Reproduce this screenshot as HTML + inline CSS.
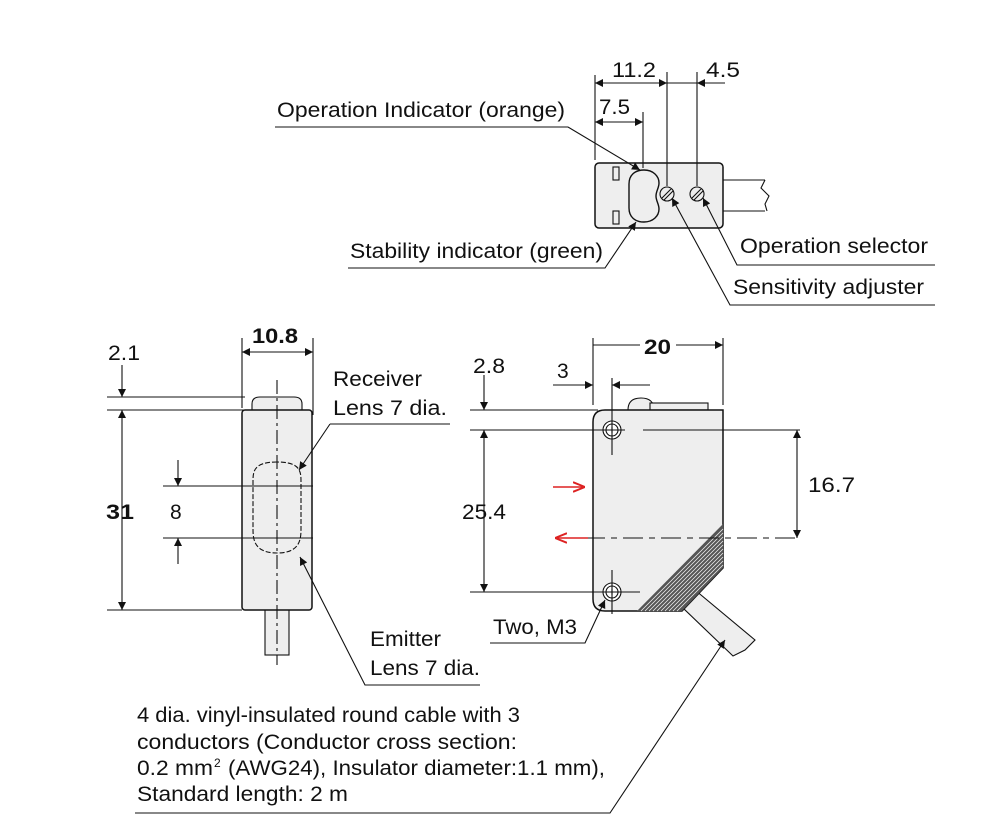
<!DOCTYPE html>
<html><head><meta charset="utf-8"><style>
html,body{margin:0;padding:0;background:#fff}
svg text{font-family:"Liberation Sans",sans-serif;font-size:21px;fill:#111}
</style></head><body>
<svg width="1000" height="830" viewBox="0 0 1000 830" xmlns="http://www.w3.org/2000/svg">
<defs>
<marker id="a" viewBox="0 0 10 10" refX="10" refY="5" markerWidth="12" markerHeight="8" markerUnits="userSpaceOnUse" orient="auto-start-reverse"><path d="M0,0L10,5L0,10z" fill="#111"/></marker>
<marker id="r" viewBox="0 0 10 10" refX="10" refY="5" markerWidth="12" markerHeight="12" markerUnits="userSpaceOnUse" orient="auto"><path d="M0,1L10,5L0,9" fill="none" stroke="#d22" stroke-width="1.6"/></marker>
</defs>
<g stroke="#111" stroke-width="1.1" fill="none">
<!-- TOP VIEW -->
<path d="M723,180H765M723,211H765" />
<path d="M765,180l-4,8 8,8-4,8 2,7" />
<rect x="595" y="163" width="128" height="65" rx="4" fill="#eee" stroke-width="1.5"/>
<rect x="613" y="167" width="6" height="13"/>
<rect x="613" y="211" width="6" height="13"/>
<path d="M644,170c-9,0-15,5-15,14v24c0,9 6,14 15,14c9,0 15-6 15-13c0-5-3-8-3-13c0-5 3-8 3-13c0-7-6-13-15-13z" stroke-width="1.4"/>
<circle cx="667" cy="194" r="7"/><path d="M662,198l9-9M664,200l9-9"/>
<circle cx="697" cy="194" r="7"/><path d="M692,198l9-9M694,200l9-9"/>
<path d="M595,160V75M667,186V72M697,186V72M643,168V112"/>
<path d="M595,83H667" marker-start="url(#a)" marker-end="url(#a)"/>
<path d="M725,83H697" marker-end="url(#a)"/>
<path d="M697,83H667"/>
<path d="M595,122H643" marker-start="url(#a)" marker-end="url(#a)"/>
<path d="M275,127H568L640,170" marker-end="url(#a)"/>
<path d="M348,268H605L636,222" marker-end="url(#a)"/>
<path d="M935,265H737L703,198" marker-end="url(#a)"/>
<path d="M935,305H730L672,198" marker-end="url(#a)"/>
<!-- SIDE VIEW -->
<rect x="265" y="605" width="24" height="50" fill="#eee"/>
<path d="M252,410V404q0-7 8-7H294q8,0 8,7V410z" fill="#eee"/>
<rect x="242" y="410" width="70" height="200" rx="3" fill="#eee" stroke-width="1.5"/>
<path d="M277,462c-24,0-24,10-24,20v46c0,10 0,25 24,25c24,0 24-15 24-25v-46c0-10 0-20-24-20z" stroke-dasharray="5,2"/>
<path d="M277,380V665" stroke-dasharray="14,4,3,4"/>
<path d="M163,486H313M163,538H313M107,397H245M107,410H245M107,610H242"/>
<path d="M242,408V338M313,415V338"/>
<path d="M242,352H313" marker-start="url(#a)" marker-end="url(#a)"/>
<path d="M122,410V610" marker-start="url(#a)" marker-end="url(#a)"/>
<path d="M122,365V397" marker-end="url(#a)"/>
<path d="M178,460V486" marker-end="url(#a)"/>
<path d="M178,564V538" marker-end="url(#a)"/>
<path d="M330,424H450M330,424L299,470" marker-end="url(#a)"/>
<path d="M480,685H365L300,557" marker-end="url(#a)"/>
<!-- FRONT VIEW -->
<path d="M695,590L755,640l-10,10-12,6-50-48z" fill="#eee"/>
<path d="M628,410q0-12 13-12q13,0 13,12z" fill="#eee"/>
<rect x="650" y="403" width="58" height="7" fill="#eee"/>
<path d="M605,410H723V568L682,611H605q-12,0-12-12V422q0-12 12-12z" fill="#eee" stroke-width="1.5"/>
<path d="M637,611L723,524V568L682,611z" fill="#555" stroke="none"/>
<g stroke="#eee" stroke-width="0.8"><path d="M641,611L723,529M645,611L723,533M649,611L723,537M653,611L723,541M657,611L723,545M661,611L723,549M665,611L723,553M669,611L723,557M673,611L723,561M677,611L723,565"/></g>
<circle cx="612" cy="430" r="9" fill="#fff"/><circle cx="612" cy="430" r="6"/>
<circle cx="612" cy="592" r="9" fill="#fff"/><circle cx="612" cy="592" r="6"/>
<path d="M609,430h6M612,427v6M609,592h6M612,589v6" />
<path d="M612,378V455M612,570V614"/>
<path d="M593,405V338M723,405V338"/>
<path d="M640,345H593M676,345H723" marker-end="url(#a)"/>
<path d="M553,385H593" marker-end="url(#a)"/>
<path d="M650,385H612" marker-end="url(#a)"/>
<path d="M470,410H598M470,430H625M643,430H800M470,592H640"/>
<path d="M484,375V410" marker-end="url(#a)"/>
<path d="M484,430V592" marker-start="url(#a)" marker-end="url(#a)"/>
<path d="M797,430V538" marker-start="url(#a)" marker-end="url(#a)"/>
<path d="M585,538H800" stroke-dasharray="20,6,6,6"/>
<path d="M553,487H585" stroke="#d22" stroke-width="1.6" marker-end="url(#r)"/>
<path d="M588,538H555" stroke="#d22" stroke-width="1.6" marker-end="url(#r)"/>
<path d="M490,643H585L605,600" marker-end="url(#a)"/>
<path d="M135,813H610L725,640" marker-end="url(#a)"/>
</g>
<g>
<text x="612" y="77" textLength="44" lengthAdjust="spacingAndGlyphs">11.2</text>
<text x="706" y="77" textLength="34" lengthAdjust="spacingAndGlyphs">4.5</text>
<text x="599" y="114" textLength="31" lengthAdjust="spacingAndGlyphs">7.5</text>
<text x="277" y="117" textLength="288" lengthAdjust="spacingAndGlyphs">Operation Indicator (orange)</text>
<text x="350" y="258" textLength="253" lengthAdjust="spacingAndGlyphs">Stability indicator (green)</text>
<text x="740" y="253" textLength="188" lengthAdjust="spacingAndGlyphs">Operation selector</text>
<text x="733" y="294" textLength="191" lengthAdjust="spacingAndGlyphs">Sensitivity adjuster</text>
<text x="252" y="343" textLength="46" lengthAdjust="spacingAndGlyphs" style="font-weight:bold">10.8</text>
<text x="108" y="360" textLength="32" lengthAdjust="spacingAndGlyphs">2.1</text>
<text x="106" y="519" textLength="28" lengthAdjust="spacingAndGlyphs" style="font-weight:bold">31</text>
<text x="170" y="519">8</text>
<text x="333" y="386" textLength="89" lengthAdjust="spacingAndGlyphs">Receiver</text>
<text x="333" y="415" textLength="114" lengthAdjust="spacingAndGlyphs">Lens 7 dia.</text>
<text x="370" y="646" textLength="71" lengthAdjust="spacingAndGlyphs">Emitter</text>
<text x="370" y="675" textLength="110" lengthAdjust="spacingAndGlyphs">Lens 7 dia.</text>
<text x="644" y="354" textLength="27" lengthAdjust="spacingAndGlyphs" style="font-weight:bold">20</text>
<text x="473" y="373" textLength="32" lengthAdjust="spacingAndGlyphs">2.8</text>
<text x="557" y="378">3</text>
<text x="462" y="519" textLength="44" lengthAdjust="spacingAndGlyphs">25.4</text>
<text x="808" y="492" textLength="47" lengthAdjust="spacingAndGlyphs">16.7</text>
<text x="493" y="634" textLength="84" lengthAdjust="spacingAndGlyphs">Two, M3</text>
<text x="137" y="722" textLength="383" lengthAdjust="spacingAndGlyphs">4 dia. vinyl-insulated round cable with 3</text>
<text x="137" y="749" textLength="380" lengthAdjust="spacingAndGlyphs">conductors (Conductor cross section:</text>
<text x="137" y="775" textLength="76" lengthAdjust="spacingAndGlyphs">0.2 mm</text>
<text x="214" y="767" style="font-size:12px">2</text>
<text x="228" y="775" textLength="377" lengthAdjust="spacingAndGlyphs">(AWG24), Insulator diameter:1.1 mm),</text>
<text x="137" y="801" textLength="211" lengthAdjust="spacingAndGlyphs">Standard length: 2 m</text>
</g>
</svg>
</body></html>
